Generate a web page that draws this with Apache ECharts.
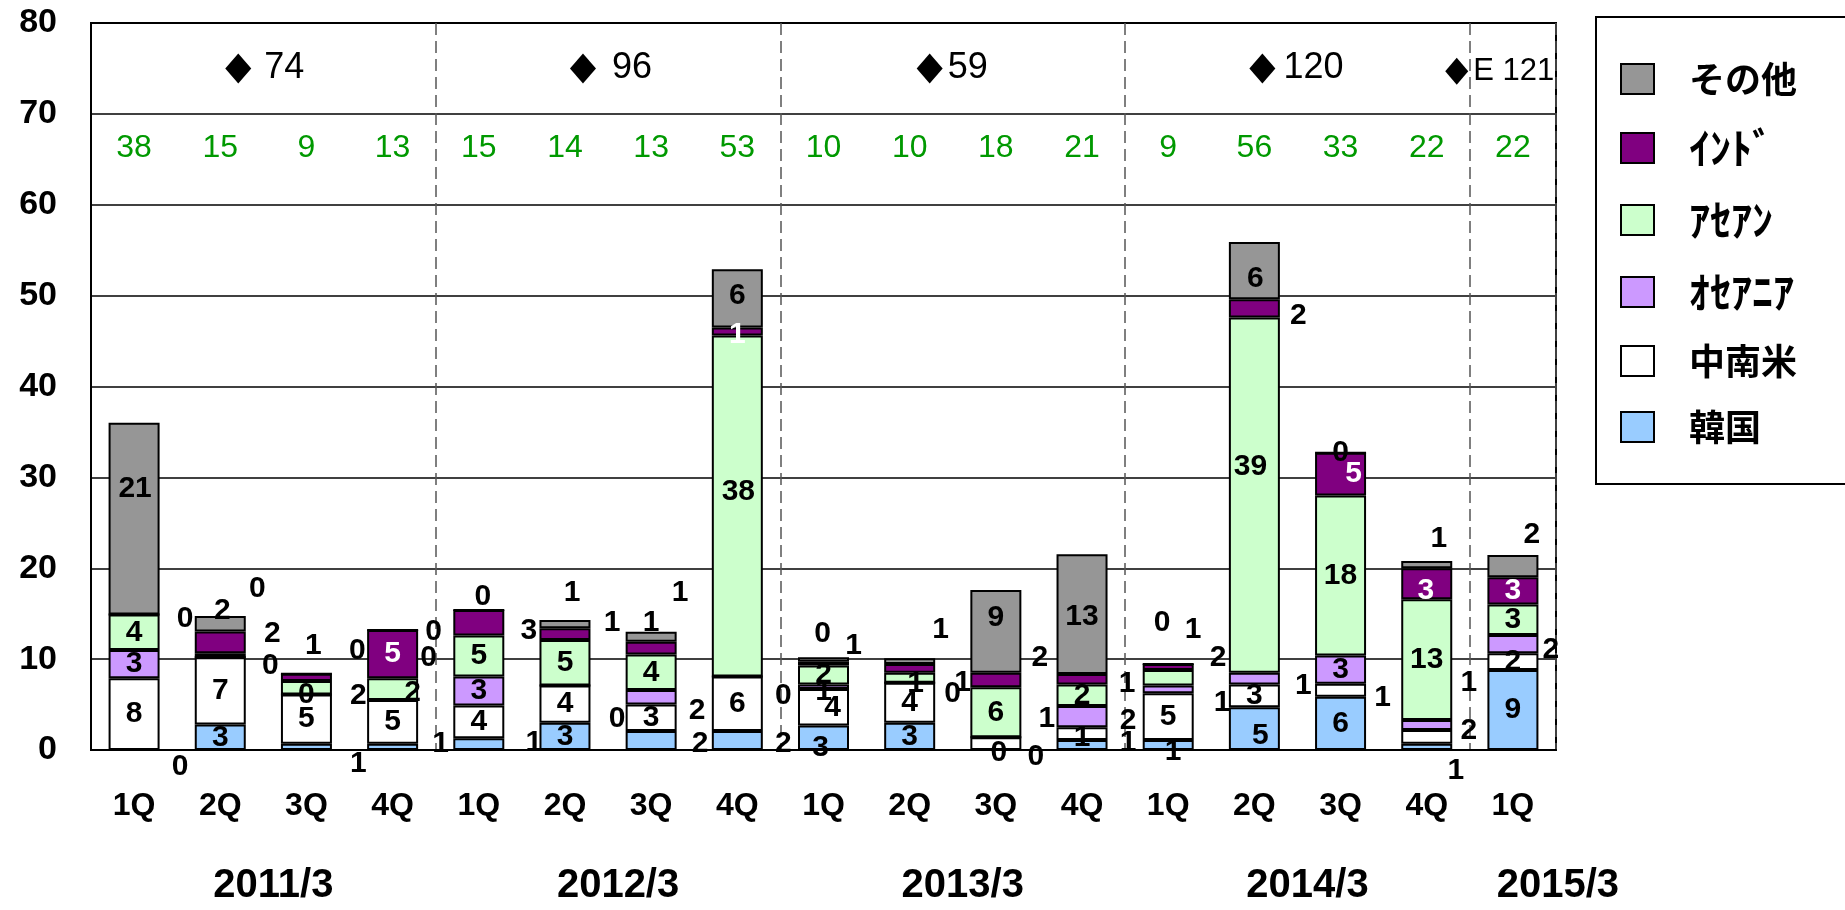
<!DOCTYPE html>
<html>
<head>
<meta charset="utf-8">
<script src="https://cdn.jsdelivr.net/npm/echarts@6/dist/echarts.min.js"></script>
<style>
  html, body { margin: 0; padding: 0; background: #fff; }
  #chart { width: 1845px; height: 910px; }
</style>
</head>
<body>
<div id="chart"></div>
<script>
// categories
var quarters = ['1Q', '2Q', '3Q', '4Q', '1Q', '2Q', '3Q', '4Q', '1Q', '2Q', '3Q', '4Q', '1Q', '2Q', '3Q', '4Q', '1Q']
var yearLabels = ['2011/3', '2012/3', '2013/3', '2014/3', '2015/3']

// yearly totals (◆) and the quarter index they sit on
var annualTotals = ['74', '96', '59', '120', 'E 121']
var annualAt = [1, 5, 9, 13, 15]

// green quarter numbers
var quarterTotals = [38, 15, 9, 13, 15, 14, 13, 53, 10, 10, 18, 21, 9, 56, 33, 22, 22]

// stacked values, bottom to top
var korea = [0, 2.8, 0.7, 0.7, 1.3, 3.0, 2.1, 2.1, 2.7, 3.0, 0, 1.1, 1.1, 4.7, 5.85, 0.7, 8.8]
var latam = [7.9, 7.4, 5.4, 4.8, 3.6, 4.1, 2.9, 6.0, 4.0, 4.4, 1.4, 1.4, 5.15, 2.5, 1.45, 1.5, 1.85]
var oceania = [3.1, 0, 0, 0, 3.2, 0, 1.6, 0, 0.5, 0, 0, 2.35, 0.85, 1.3, 3.1, 1.1, 2.0]
var asean = [3.9, 0.45, 1.5, 2.4, 4.5, 5.0, 3.9, 37.5, 2.1, 1.1, 5.5, 2.35, 1.7, 39.1, 17.6, 13.3, 3.35]
var india = [0, 2.4, 0.8, 5.3, 2.8, 1.3, 1.4, 0.9, 0.4, 0.95, 1.6, 1.15, 0.65, 2.0, 4.7, 3.4, 3.0]
var other = [21.1, 1.7, 0, 0, 0, 0.9, 1.1, 6.4, 0.5, 0.65, 9.1, 13.2, 0, 6.3, 0, 0.8, 2.45]

var numFont = '"Liberation Sans", Arial, sans-serif'
var jpFont = '"Noto Sans CJK JP", sans-serif'

// label nudges (px) for labels Excel pushed out of their segment: index -> [dx, dy, color]
var nudges = {
    korea: { 0: [46, 17], 2: [52, 17], 3: [48, -3], 4: [55, -1], 6: [49, 3], 7: [46, 3], 8: [-3, 10], 10: [40, 7], 11: [46, -2], 12: [5, 7], 13: [6, 7], 15: [29, 24] },
    latam: { 8: [9, 0], 10: [51, -25], 11: [0, 4], 14: [42, 7], 15: [42, -6] },
    oceania: { 1: [50, 8], 3: [36, -42], 5: [52, 33], 6: [46, 13], 7: [46, 19], 8: [0, 5], 9: [43, 11], 10: [3, 15], 11: [46, 4], 12: [54, 13], 13: [49, 7], 15: [42, -42], 16: [38, 6] },
    asean: { 1: [37, -67], 2: [52, 8], 3: [20, 4], 7: [1, -14], 9: [6, 6], 12: [50, -20], 13: [-4, -28] },
    india: { 0: [51, 4, '#000'], 1: [52, -9, '#000'], 2: [7, -32, '#000'], 4: [50, 8, '#000'], 5: [47, -11, '#000'], 6: [0, -25, '#000'], 7: [0, 3], 8: [-1, -30, '#000'], 9: [53, 14, '#000'], 10: [44, -22, '#000'], 11: [45, 4, '#000'], 12: [25, -37, '#000'], 13: [44, 7, '#000'], 14: [13, 0], 15: [-1, 7] },
    other: { 0: [1, -30], 1: [2, -13], 2: [51, -23], 3: [41, 2], 4: [4, -13], 5: [7, -31], 6: [29, -44], 7: [0, -3], 8: [30, -14], 9: [31, -31], 10: [0, -14], 11: [0, 3], 12: [-6, -41], 13: [1, 8], 15: [12, -26], 16: [19, -31] }
}

function barSeries(name, key, values, color, labelColor) {
    return {
        name: name,
        type: 'bar',
        stack: 'total',
        barWidth: 51,
        itemStyle: { color: color, borderColor: '#000', borderWidth: 2 },
        label: {
            show: true,
            position: 'inside',
            color: labelColor,
            fontFamily: numFont,
            fontSize: 30,
            fontWeight: 'bold',
            textBorderWidth: 0,
            formatter: function (p) { return Math.round(p.value) }
        },
        data: values.map(function (v, i) {
            var n = nudges[key][i]
            if (!n) return v
            return { value: v, label: { offset: [n[0], n[1]], color: n[2] || labelColor } }
        })
    }
}

var annualShift = [18, 18, 20, 8, 30]
var annualGap = [13, 16, 5, 8, 5]
var halfWidth = { 'ｲﾝﾄﾞ': 1, 'ｱｾｱﾝ': 1, 'ｵｾｱﾆｱ': 1 }

var series = [
    barSeries('韓国', 'korea', korea, '#99ccff', '#000'),
    barSeries('中南米', 'latam', latam, '#ffffff', '#000'),
    barSeries('ｵｾｱﾆｱ', 'oceania', oceania, '#cc99ff', '#000'),
    barSeries('ｱｾｱﾝ', 'asean', asean, '#ccffcc', '#000'),
    barSeries('ｲﾝﾄﾞ', 'india', india, '#800080', '#fff'),
    barSeries('その他', 'other', other, '#969696', '#000'),
    {
        type: 'scatter',
        symbolSize: 0,
        silent: true,
        itemStyle: { opacity: 1 },
        label: {
            show: true,
            position: 'inside',
            color: '#009900',
            fontFamily: numFont,
            fontSize: 32,
            formatter: function (p) { return quarterTotals[p.dataIndex] }
        },
        data: quarterTotals.map(function (v, i) { return [i, 66.2] })
    },
    {
        type: 'scatter',
        symbol: 'diamond',
        symbolSize: [26, 30],
        silent: true,
        itemStyle: { color: '#000', opacity: 1 },
        label: {
            show: true,
            position: 'right',
            color: '#000',
            fontFamily: numFont,
            fontSize: 36,
            formatter: function (p) { return annualTotals[p.dataIndex] }
        },
        data: annualAt.map(function (c, i) {
            var last = i === annualAt.length - 1
            return {
                value: [c, last ? 74.7 : 75],
                symbolOffset: [annualShift[i], 0],
                symbolSize: last ? [23, 27] : [26, 30],
                label: { distance: annualGap[i], fontSize: last ? 31 : 36 }
            }
        })
    }
]

var option = {
    animation: false,
    backgroundColor: '#fff',
    grid: {
        left: 91,
        top: 23,
        width: 1465,
        height: 727,
        show: true,
        borderColor: '#000',
        borderWidth: 2
    },
    legend: {
        orient: 'vertical',
        left: 1596,
        top: 17,
        padding: [44, 60, 39, 24],
        borderColor: '#000',
        borderWidth: 2,
        icon: 'rect',
        itemWidth: 33,
        itemHeight: 30,
        itemGap: 30,
        formatter: function (name) {
            return halfWidth[name] ? '{h|' + name + '}' : '{f|' + name + '}'
        },
        textStyle: {
            color: '#000',
            fontFamily: jpFont,
            fontWeight: 'bold',
            lineHeight: 30,
            padding: [0, 0, 0, 30],
            rich: {
                f: { fontFamily: jpFont, fontWeight: 'bold', fontSize: 36, lineHeight: 30, color: '#000' },
                h: { fontFamily: jpFont, fontWeight: 'bold', fontSize: 42, lineHeight: 30, color: '#000' }
            }
        },
        data: ['その他', 'ｲﾝﾄﾞ', 'ｱｾｱﾝ', 'ｵｾｱﾆｱ', '中南米', '韓国']
    },
    xAxis: {
        type: 'category',
        data: quarters,
        axisLine: { lineStyle: { color: '#000', width: 2 } },
        axisTick: { show: false },
        axisLabel: {
            interval: 0,
            margin: 40,
            color: '#000',
            fontFamily: numFont,
            fontSize: 32,
            fontWeight: 'bold'
        },
        splitLine: {
            show: true,
            interval: function (index) { return index > 0 && index % 4 === 0 },
            lineStyle: { color: '#555', width: 1.5, type: [12, 6] }
        }
    },
    yAxis: {
        type: 'value',
        min: 0,
        max: 80,
        interval: 10,
        axisLine: { show: true, lineStyle: { color: '#000', width: 2 } },
        axisTick: { show: false },
        axisLabel: {
            margin: 34,
            color: '#000',
            fontFamily: numFont,
            fontSize: 34,
            fontWeight: 'bold'
        },
        splitLine: { show: true, lineStyle: { color: '#000', width: 1.5 } }
    },
    series: series
}

var myChart = echarts.init(document.getElementById('chart'))
myChart.setOption(option)

// fiscal-year captions under the quarter labels, placed from the category axis
function px(i) { return myChart.convertToPixel({ xAxisIndex: 0 }, i) }
var yearX = yearLabels.map(function (t, y) {
    if (y < 4) return (px(4 * y + 1) + px(4 * y + 2)) / 2 + 10
    return px(16) + 45
})
myChart.setOption({
    graphic: yearLabels.map(function (t, y) {
        return {
            type: 'text',
            x: yearX[y],
            y: 886,
            silent: true,
            style: {
                text: t,
                fill: '#000',
                fontFamily: numFont,
                fontSize: 40,
                fontWeight: 'bold',
                align: 'center',
                verticalAlign: 'middle'
            }
        }
    })
})
</script>
</body>
</html>
